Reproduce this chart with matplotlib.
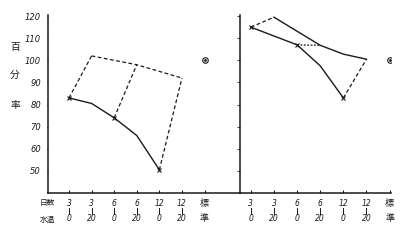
import matplotlib
matplotlib.use("Agg")
import matplotlib.pyplot as plt

plt.rcParams['font.family'] = ['DejaVu Sans', 'Noto Sans CJK JP']

# x positions: 0..5 = (3,0) (3,20) (6,0) (6,20) (12,0) (12,20), 6 = 標準
days = ["3", "3", "6", "6", "12", "12"]
temps = ["0", "20", "0", "20", "0", "20"]
std_x = 6
std_val = 100

# left panel
L_solid_x = [0, 1, 2, 3, 4]
L_solid_y = [83, 80.5, 74, 66, 50.5]
L_top_x = [1, 3, 5]
L_top_y = [102, 98, 92]
L_cross_x = [0, 2, 4]
L_cross_y = [83, 74, 50.5]

# right panel
R_solid_x = [0, 1, 2, 3, 4]
R_solid_y = [115, 111, 107, 97.5, 83]
R_top_x = [1, 3, 4, 5]
R_top_y = [119.5, 106.8, 102.8, 100.5]
R_cross_x = [0, 2, 4]
R_cross_y = [115, 107, 83]
R_mid_y20 = 106.8

ink = "#1a1a1a"
dash = (0, (3, 2))

fig = plt.figure(figsize=(4.06, 2.40), dpi=100)
axL = fig.add_axes([48/406, 47/240, 192/406, 178/240])
axR = fig.add_axes([240/406, 47/240, 151/406, 178/240])

for ax, xl in ((axL, (-0.93, 7.57)), (axR, (-0.47, 6.06))):
    ax.set_xlim(*xl)
    ax.set_ylim(40, 120.5)
    for s in ("top", "right"):
        ax.spines[s].set_visible(False)
    for s in ("left", "bottom"):
        ax.spines[s].set_color(ink)
        ax.spines[s].set_linewidth(1.1)
    ax.set_xticks(list(range(7)))
    ax.set_xticklabels([])
    ax.tick_params(axis="x", direction="in", length=2, width=0.8, color=ink)
    ax.set_yticks(range(50, 121, 10))
    ax.tick_params(axis="y", direction="out", length=2, width=0.6, color=ink)
    ax.patch.set_alpha(0)
    tr = ax.get_xaxis_transform()
    for i in range(6):
        ax.text(i, -0.058, days[i], transform=tr, ha="center", va="center",
                fontsize=5.5, style="italic", color=ink)
        ax.plot([i, i], [-0.083, -0.118], transform=tr, color=ink, lw=0.7,
                clip_on=False)
        ax.text(i, -0.145, temps[i], transform=tr, ha="center", va="center",
                fontsize=5.5, style="italic", color=ink)
    ax.text(std_x, -0.058, "標", transform=tr, ha="center", va="center",
            fontsize=6.5, color=ink)
    ax.text(std_x, -0.145, "準", transform=tr, ha="center", va="center",
            fontsize=6.5, color=ink)
    ax.plot([std_x], [std_val], "o", ms=4, mfc="none", mec=ink, mew=0.8)
    ax.plot([std_x], [std_val], "o", ms=1, color=ink)

axL.set_yticklabels([str(v) for v in range(50, 121, 10)], fontsize=6,
                    style="italic", color=ink)
axL.tick_params(axis="y", pad=4, length=1)
axR.set_yticklabels([])

# left curves
axL.plot(L_solid_x, L_solid_y, color=ink, lw=1.0)
axL.plot(L_top_x, L_top_y, color=ink, lw=0.9, ls=dash)
for i, (x0, y0) in enumerate(zip(L_cross_x, L_cross_y)):
    axL.plot([x0, L_top_x[i]], [y0, L_top_y[i]], color=ink, lw=0.9, ls=dash)
axL.plot(L_cross_x, L_cross_y, "x", ms=3, mew=0.8, color=ink)

# right curves
axR.plot(R_solid_x, R_solid_y, color=ink, lw=1.0)
axR.plot(R_top_x, R_top_y, color=ink, lw=1.0)
axR.plot([R_cross_x[0], R_top_x[0]], [R_cross_y[0], R_top_y[0]],
         color=ink, lw=0.9, ls=dash)
axR.plot([R_cross_x[1], 3], [R_cross_y[1], R_mid_y20], color=ink, lw=0.9,
         ls=(0, (1.5, 1.2)))
axR.plot([R_cross_x[2], R_top_x[-1]], [R_cross_y[2], R_top_y[-1]],
         color=ink, lw=0.9, ls=dash)
axR.plot(R_cross_x, R_cross_y, "x", ms=3, mew=0.8, color=ink)

# y label (vertical) and row labels
for ch, yp in (("百", 47), ("分", 75), ("率", 105)):
    fig.text(15/406, 1 - yp/240, ch, ha="center", va="center", fontsize=7,
             color=ink)
fig.text(47/406, 1 - 203/240, "日数", ha="center", va="center", fontsize=5.5,
         color=ink)
fig.text(47/406, 1 - 219/240, "水温", ha="center", va="center", fontsize=5.5,
         color=ink)

fig.savefig("out.png", dpi=100)
